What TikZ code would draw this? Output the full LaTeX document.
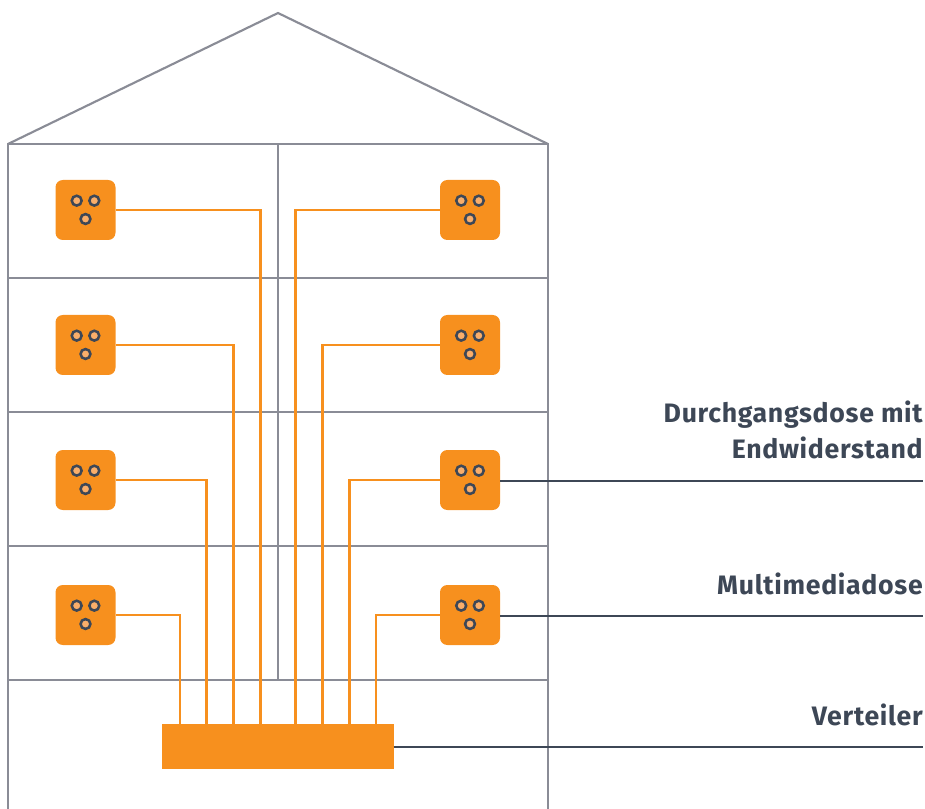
\documentclass[tikz,border=0pt]{standalone}
\usepackage{fontspec}
\setmainfont[LetterSpace=2.6]{Fira Sans}
\definecolor{wall}{HTML}{8A8C96}
\definecolor{org}{HTML}{F7901E}
\definecolor{dark}{HTML}{3D4756}
\definecolor{hole}{HTML}{F9AE6A}
\tikzset{
  x=0.75pt,y=-0.75pt,
  wallline/.style={draw=wall,line width=1.6pt,line join=miter},
  wire/.style={draw=org,line width=2pt},
  leader/.style={draw=dark,line width=1.5pt},
  socket/.style={fill=org,rounded corners=5.5pt,minimum size=45pt,inner sep=0pt,outer sep=0pt},
  distrib/.style={fill=org,minimum width=173.5pt,minimum height=33.4pt,inner sep=0pt,outer sep=0pt},
  holeC/.style={draw=dark,fill=hole,line width=1.9pt,circle,minimum size=7.4pt,inner sep=0pt},
  lab/.style={font=\fontsize{20}{24}\selectfont\bfseries,text=dark,anchor=base east,inner sep=0pt}
}
\newcommand{\holes}[1]{%
  \node[holeC] (#1h1) at ([xshift=-6.6pt,yshift=7pt]#1.center) {};
  \node[holeC] (#1h2) at ([xshift=6.6pt,yshift=7pt]#1.center) {};
  \node[holeC] (#1h3) at ([yshift=-6.75pt]#1.center) {};
}
\begin{document}
\begin{tikzpicture}
\useasboundingbox (0,0) rectangle (925,809);
% building
\coordinate (apex) at (278,13);
\coordinate (eaveL) at (8,144);
\coordinate (eaveR) at (548,144);
\coordinate (baseL) at (8,809);
\coordinate (baseR) at (548,809);
\coordinate (midB) at (278,680);
\draw[wallline] (eaveL) -- (apex) -- (eaveR);
\draw[wallline] (baseL) -- (eaveL) -- (eaveR) -- (baseR);
\foreach \y in {278,412,546,680} \draw[wallline] (8,\y) -- (548,\y);
\draw[wallline] (apex |- eaveL) -- (midB);
% distributor
\node[distrib] (v) at (278,746.3) {};
% sockets
\foreach \n/\x/\y in {a/85.5/210,b/85.5/345,c/85.5/480,d/85.5/615,e/470/210,f/470/345,g/470/480,h/470/615}
  \node[socket] (\n) at (\x,\y) {};
% wires
\draw[wire] (a.east) -| ([xshift=-13.1pt]v.north);
\draw[wire] (b.east) -| ([xshift=-33.3pt]v.north);
\draw[wire] (c.east) -| ([xshift=-53.4pt]v.north);
\draw[wire] (d.east) -| ([xshift=-73.5pt]v.north);
\draw[wire] (e.west) -| ([xshift=13.1pt]v.north);
\draw[wire] (f.west) -| ([xshift=33.3pt]v.north);
\draw[wire] (g.west) -| ([xshift=53.4pt]v.north);
\draw[wire] (h.west) -| ([xshift=73.5pt]v.north);
\foreach \n in {a,b,c,d,e,f,g,h} {\holes{\n}}
% labels
\coordinate (endG) at (923,481);
\coordinate (endH) at (923,615.5);
\coordinate (endV) at (923,747);
\draw[leader] (g.east |- endG) -- (endG);
\draw[leader] (h.east |- endH) -- (endH);
\draw[leader] (v.east |- endV) -- (endV);
\node[lab] (l1) at (923,422) {Durchgangsdose mit};
\node[lab] (l2) at (923,458) {Endwiderstand};
\node[lab] (l3) at (923,594) {Multimediadose};
\node[lab] (l4) at (923,725) {Verteiler};
\end{tikzpicture}
\end{document}
